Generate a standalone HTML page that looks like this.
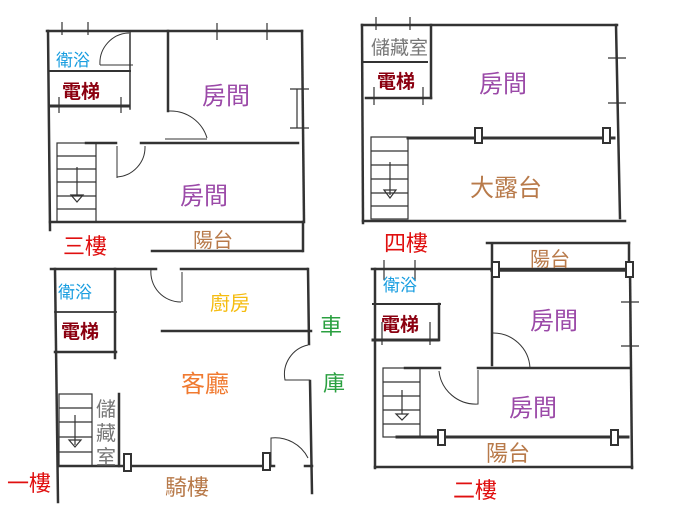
<!DOCTYPE html>
<html><head><meta charset="utf-8"><style>
html,body{margin:0;padding:0;background:#fff;width:691px;height:511px;overflow:hidden}
svg text{font-family:"Liberation Sans","Noto Sans CJK TC",sans-serif}
</style></head><body>
<svg width="691" height="511" viewBox="0 0 691 511" xmlns="http://www.w3.org/2000/svg">
<g stroke="#333" stroke-width="2.5" fill="none" stroke-linecap="square">
<!-- Q1 3F -->
<line x1="47" y1="31" x2="302" y2="31"/>
<line x1="48" y1="31" x2="50" y2="230"/>
<line x1="302" y1="31" x2="304" y2="222"/>
<line x1="50" y1="222" x2="303" y2="222"/>
<line x1="152" y1="251" x2="302" y2="251"/>
<line x1="303" y1="222" x2="303" y2="251"/>
<line x1="168" y1="31" x2="168" y2="111"/>
<line x1="86" y1="143" x2="116" y2="143"/>
<line x1="141" y1="143" x2="298" y2="143"/>
<line x1="49" y1="71" x2="130" y2="71" stroke-width="2"/>
<line x1="50" y1="106" x2="128" y2="106" stroke-width="3"/>
<line x1="130" y1="31" x2="130" y2="109" stroke-width="1.5"/>
<rect x="57" y="143" width="39" height="79" stroke-width="1.2"/>
<!-- Q2 4F -->
<line x1="362" y1="25" x2="617" y2="25"/>
<line x1="362" y1="25" x2="363" y2="223"/>
<line x1="616" y1="25" x2="620" y2="218"/>
<line x1="363" y1="221" x2="625" y2="221"/>
<line x1="364" y1="62" x2="427" y2="62" stroke-width="2"/>
<line x1="431" y1="25" x2="431" y2="98"/>
<line x1="366" y1="98" x2="431" y2="98"/>
<line x1="408" y1="138" x2="614" y2="138" stroke-width="3"/>
<rect x="371" y="137" width="37" height="82" stroke-width="1.2"/>
<!-- Q3 1F -->
<line x1="51" y1="269" x2="156" y2="269"/>
<line x1="181" y1="269" x2="307" y2="269"/>
<line x1="55" y1="269" x2="58" y2="502"/>
<line x1="308" y1="269" x2="309" y2="344"/>
<line x1="310" y1="381" x2="312" y2="493"/>
<line x1="162" y1="331" x2="311" y2="331"/>
<line x1="55" y1="312" x2="116" y2="312" stroke-width="1.8"/>
<line x1="115" y1="269" x2="115" y2="358"/>
<line x1="55" y1="352" x2="116" y2="352"/>
<line x1="119" y1="394" x2="119" y2="466"/>
<rect x="59" y="394" width="33" height="72" stroke-width="1.2"/>
<line x1="58" y1="466" x2="274" y2="466"/>
<line x1="305" y1="466" x2="312" y2="466"/>
<!-- Q4 2F -->
<line x1="487" y1="243" x2="629" y2="243"/>
<line x1="492" y1="245" x2="492" y2="270"/>
<line x1="629" y1="243" x2="629" y2="270"/>
<line x1="372" y1="269" x2="629" y2="269"/>
<line x1="492" y1="270" x2="629" y2="270" stroke-width="3.5"/>
<line x1="375" y1="269" x2="375" y2="468"/>
<line x1="630" y1="269" x2="632" y2="468"/>
<line x1="375" y1="467" x2="632" y2="467"/>
<line x1="373" y1="304" x2="440" y2="304" stroke-width="2"/>
<line x1="373" y1="340" x2="438" y2="340" stroke-width="3"/>
<line x1="439" y1="304" x2="439" y2="340"/>
<line x1="492" y1="270" x2="492" y2="365"/>
<line x1="405" y1="368" x2="440" y2="368"/>
<line x1="478" y1="368" x2="630" y2="368"/>
<rect x="383" y="368" width="37" height="69" stroke-width="1.2"/>
<line x1="397" y1="437" x2="628" y2="437" stroke-width="3"/>
</g>
<!-- stairs steps & arrows -->
<g stroke="#333" stroke-width="1.2" fill="none">
<path d="M57 156H96M57 169H96M57 182H96M57 196H96M57 209H96"/>
<path d="M77 167V196M71 195L77 202L83 195Z"/>
<path d="M371 151H408M371 165H408M371 179H408M371 193H408M371 206H408"/>
<path d="M390 162V195M384 190L390 198L396 190Z"/>
<path d="M59 408H92M59 422H92M59 437H92M59 452H92"/>
<path d="M75 415V445M69 440L75 447L81 440Z"/>
<path d="M383 382H420M383 396H420M383 410H420M383 424H420"/>
<path d="M402 390V414M396 414L402 420L408 414Z"/>
<!-- doors -->
<path d="M100 65A30 30 0 0 1 129 33M100 65H133" stroke-width="1"/>
<path d="M207 138A38 38 0 0 0 169 111M165 139H207" stroke-width="1"/>
<path d="M117 177A30 30 0 0 0 145 146M117 146V178" stroke-width="1"/>
<path d="M151 269A30 30 0 0 0 181 302M182 272V302" stroke-width="1"/>
<path d="M308 345A30 30 0 0 0 285 380H310" stroke-width="1"/>
<path d="M308 458A37 37 0 0 0 271 438V466" stroke-width="1"/>
<path d="M530 368A37 37 0 0 0 492 333" stroke-width="1"/>
<path d="M439 371A37 37 0 0 0 478 404V370" stroke-width="1"/>
<!-- windows -->
<path d="M62 22V35M88 22V35M217 23V40M267 23V40M290 89H309M290 128H309M297 89V128" stroke-width="1.2"/>
<path d="M376 17V30M410 17V30M608 58H626M608 103H626M617 58V103M374 87V105M423 87V105" stroke-width="1.2"/>
<path d="M621 302H639M621 346H639M630 302V346M384 260V280M415 260V280M382 322V345M430 322V345M59 97V113M121 97V113" stroke-width="1.2"/>
</g>
<g fill="#fff" stroke="#333" stroke-width="2">
<rect x="475" y="128" width="7" height="15"/><rect x="603" y="128" width="7" height="15"/>
<rect x="124" y="454" width="7" height="17"/><rect x="263" y="453" width="7" height="17"/>
<rect x="492" y="262" width="7" height="15"/><rect x="626" y="262" width="7" height="15"/>
<rect x="438" y="430" width="7" height="15"/><rect x="611" y="430" width="7" height="15"/>
</g>
<!-- labels -->
<g font-size="18">
<text x="56" y="66" fill="#1a9ee0" font-size="17">衛浴</text>
<text x="62" y="98" fill="#8b0010" font-weight="bold" font-size="19">電梯</text>
<text x="202" y="104" fill="#9b4aa8" font-size="24">房間</text>
<text x="180" y="204" fill="#9b4aa8" font-size="24">房間</text>
<text x="193" y="247" fill="#b87a4a" font-size="20">陽台</text>
<text x="63" y="254" fill="#e01010" font-size="22">三樓</text>
<text x="371" y="54" fill="#777" font-size="19">儲藏室</text>
<text x="377" y="88" fill="#8b0010" font-weight="bold" font-size="19">電梯</text>
<text x="479" y="92" fill="#9b4aa8" font-size="24">房間</text>
<text x="470" y="196" fill="#b87a4a" font-size="24">大露台</text>
<text x="384" y="251" fill="#e01010" font-size="22">四樓</text>
<text x="58" y="298" fill="#1a9ee0" font-size="17">衛浴</text>
<text x="61" y="338" fill="#8b0010" font-weight="bold" font-size="19">電梯</text>
<text x="210" y="310" fill="#f5bc10" font-size="20">廚房</text>
<text x="181" y="392" fill="#f07a30" font-size="24">客廳</text>
<text x="96" y="416" fill="#777" font-size="20">儲</text>
<text x="96" y="440" fill="#777" font-size="20">藏</text>
<text x="96" y="464" fill="#777" font-size="20">室</text>
<text x="320" y="334" fill="#2aa040" font-size="22">車</text>
<text x="323" y="391" fill="#2aa040" font-size="22">庫</text>
<text x="7" y="491" fill="#e01010" font-size="22">一樓</text>
<text x="165" y="495" fill="#b87a4a" font-size="22">騎樓</text>
<text x="383" y="291" fill="#1a9ee0" font-size="17">衛浴</text>
<text x="381" y="331" fill="#8b0010" font-weight="bold" font-size="19">電梯</text>
<text x="530" y="329" fill="#9b4aa8" font-size="24">房間</text>
<text x="509" y="416" fill="#9b4aa8" font-size="24">房間</text>
<text x="530" y="266" fill="#b87a4a" font-size="20">陽台</text>
<text x="486" y="461" fill="#b87a4a" font-size="22">陽台</text>
<text x="453" y="498" fill="#e01010" font-size="22">二樓</text>
</g>
</svg>
</body></html>
